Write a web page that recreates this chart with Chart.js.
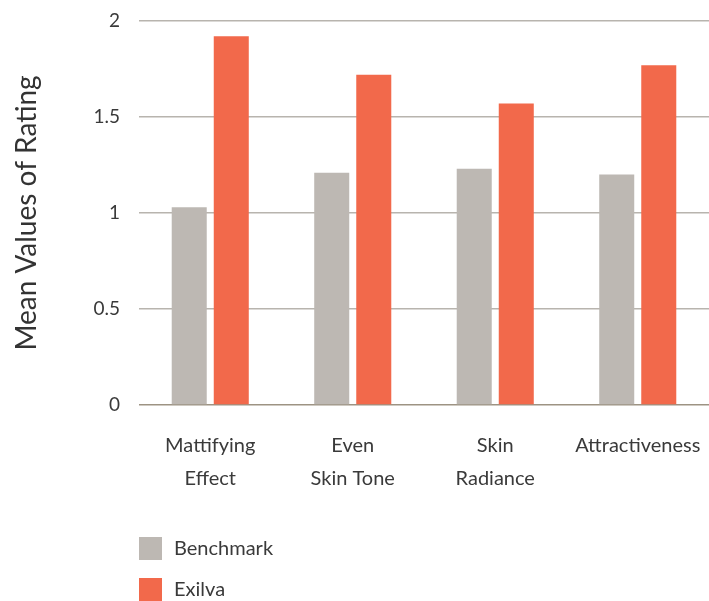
<!DOCTYPE html>
<html>
<head>
<meta charset="utf-8">
<script src="https://cdn.jsdelivr.net/npm/chart.js@4"></script>
<style>
  body { margin: 0; background: #fff; }
  #wrap { width: 709px; height: 601px; }
</style>
</head>
<body>
<div id="wrap"><canvas id="myChart" width="709" height="601"></canvas></div>
<script>
const categories = [
  ['Mattifying', 'Effect'],
  ['Even', 'Skin Tone'],
  ['Skin', 'Radiance'],
  'Attractiveness',
];
const benchmark = [1.03, 1.21, 1.23, 1.20];
const exilva = [1.92, 1.72, 1.57, 1.77];
const yTicks = [0, 0.5, 1, 1.5, 2];

const FONT = 'Lato, "Open Sans", sans-serif';

// legend drawn as two stacked rows under the axis
const stackedLegend = {
  id: 'stackedLegend',
  afterDraw(chart) {
    const ctx = chart.ctx;
    ctx.save();
    ctx.font = '20px ' + FONT;
    ctx.textBaseline = 'middle';
    ctx.textAlign = 'left';
    chart.data.datasets.forEach(function (ds, i) {
      const top = 537 + i * 41;
      ctx.fillStyle = ds.backgroundColor;
      ctx.fillRect(139, top, 23, 23);
      ctx.fillStyle = '#3a3a3a';
      ctx.fillText(ds.label, 174, top + 12);
    });
    ctx.restore();
  }
};

const data = {
  labels: categories,
  datasets: [
    {
      label: 'Benchmark',
      data: benchmark,
      backgroundColor: '#bdb8b3',
    },
    {
      label: 'Exilva',
      data: exilva,
      backgroundColor: '#f2694b',
    },
  ]
};

const config = {
  type: 'bar',
  data: data,
  options: {
    responsive: false,
    animation: false,
    categoryPercentage: 0.59,
    barPercentage: 0.833,
    layout: {
      padding: { top: 21, right: 0, bottom: 107, left: 0 }
    },
    plugins: {
      legend: { display: false },
      tooltip: { enabled: false },
    },
    scales: {
      x: {
        afterFit: function (scale) {
          scale.height = 89;
          scale.paddingLeft = 0;
          scale.paddingRight = 0;
        },
        grid: { display: false },
        border: { display: false },
        ticks: {
          color: '#3a3a3a',
          font: { family: FONT, size: 20, lineHeight: 1.65 },
          padding: 16,
          maxRotation: 0,
          autoSkip: false,
        }
      },
      y: {
        min: 0,
        max: 2,
        afterBuildTicks: function (scale) {
          scale.ticks = yTicks.map(function (v) { return { value: v }; });
        },
        afterFit: function (scale) {
          scale.width = 139;
          scale.paddingTop = 0;
          scale.paddingBottom = 0;
        },
        border: { display: false },
        grid: {
          drawTicks: false,
          lineWidth: 1.5,
          color: function (c) {
            return c.tick && c.tick.value === 0 ? '#9d9383' : '#b8b4ae';
          }
        },
        ticks: {
          color: '#3a3a3a',
          font: { family: FONT, size: 19 },
          padding: 19,
          callback: function (v) { return String(v); }
        },
        title: {
          display: true,
          text: 'Mean Values of Rating',
          color: '#333',
          font: { family: FONT, size: 28 },
          padding: { top: 10, bottom: 0 }
        }
      }
    }
  },
  plugins: [stackedLegend]
};

var ctx = document.getElementById('myChart');
var myChart = new Chart(ctx, config);
</script>
</body>
</html>
